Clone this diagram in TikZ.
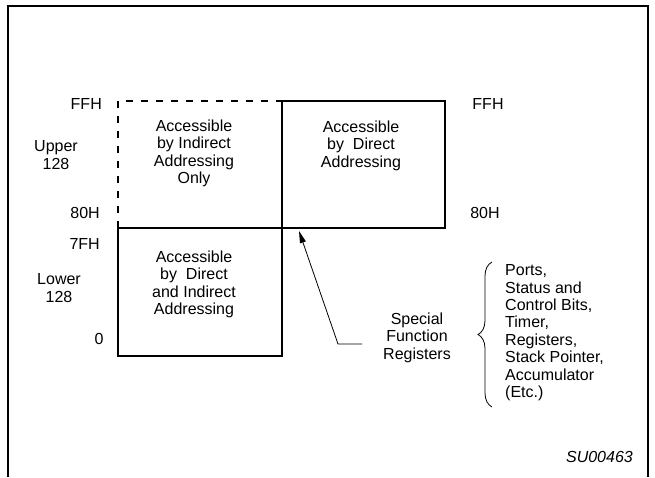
\documentclass[tikz,border=0pt]{standalone}
\usepackage{fontspec}
\setmainfont{Liberation Sans}
\usetikzlibrary{arrows.meta,decorations.pathreplacing}

\begin{document}
\begin{tikzpicture}[x=1pt,y=-1pt,font=\fontsize{16}{17.4}\selectfont,
		box/.style={draw,line width=2pt,inner sep=0pt,outer sep=0pt,anchor=north west},
		lbl/.style={align=center,inner sep=0pt}]
		\useasboundingbox (0,0) rectangle (655,477);
		% frame, open at the bottom
		\draw[line width=2.4pt] (8,477) -- (8,6) -- (648,6) -- (648,477);
		% memory blocks
		\node[box,minimum width=163pt,minimum height=127pt] (direct) at (282,101) {};
		\node[box,minimum width=164pt,minimum height=128pt] (lower) at (118,228) {};
		\draw[line width=2pt,dash pattern=on 7pt off 8pt] (lower.north west) -- (118,101) -- (direct.north west);
		\node[lbl,anchor=north] (indirtxt) at (194,119.5) {Accessible\\by Indirect\\Addressing\\Only};
		\node[lbl,anchor=north] (dirtxt) at (361,120.5) {Accessible\\by\ \ Direct\\Addressing};
		\node[lbl,anchor=north] (lowtxt) at (194,250.5) {Accessible\\by\ \ Direct\\and Indirect\\Addressing};
		% addresses
		\node[lbl,anchor=east] (ffhl) at (102,104) {FFH};
		\node[lbl,anchor=east] (eightyl) at (100,213) {80H};
		\node[lbl,anchor=east] (sevenf) at (100,244) {7FH};
		\node[lbl] (zero) at (99,339) {0};
		\node[lbl,anchor=north] (upper) at (56,140.5) {Upper\\128};
		\node[lbl,anchor=north] (lowlbl) at (59,273.5) {Lower\\128};
		\node[lbl] (ffhr) at (488,104) {FFH};
		\node[lbl] (eightyr) at (485,213) {80H};
		% special function registers
		\node[lbl,anchor=north] (sfr) at (417,312.5) {Special\\Function\\Registers};
		\coordinate (sfrend) at (362,344);
		\coordinate (bend) at (338,344);
		\coordinate (sfrtip) at (299,231);
		\draw[line width=0.8pt,-{Triangle[length=12pt,width=6pt]}] (sfrend) -- (bend) -- (sfrtip);
		\draw[line width=0.8pt,decorate,decoration={brace,amplitude=14pt}] (492,407) -- (492,262);
		\node[lbl,align=left,anchor=north west] (sfrlist) at (505,264.5) {Ports,\\Status and\\Control Bits,\\Timer,\\Registers,\\Stack Pointer,\\Accumulator\\(Etc.)};
		\node[lbl,anchor=east,font=\fontsize{16}{17.4}\selectfont\itshape] (figno) at (633,457) {SU00463};
	\end{tikzpicture}
\end{document}
